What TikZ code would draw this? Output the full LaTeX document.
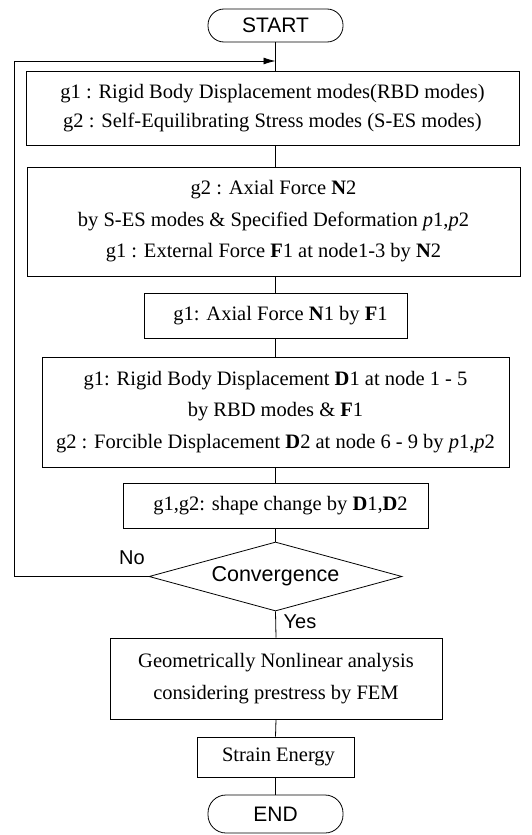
\documentclass[tikz,border=0pt]{standalone}
\usepackage{fontspec}
\setmainfont{Liberation Serif}
\newfontfamily\labelfont{Liberation Sans}
\usetikzlibrary{arrows.meta,shapes.geometric}
\begin{document}
\begin{tikzpicture}[x=1pt,y=-1pt,
  line width=0.8pt,
  boxnode/.style={draw,rectangle,inner sep=0pt,align=center,
    font=\fontsize{20.5}{31.5}\selectfont},
  termnode/.style={draw,rectangle,rounded corners=16pt,inner sep=0pt,
    minimum width=135pt,minimum height=33pt,font=\labelfont\fontsize{21}{24}\selectfont},
  decnode/.style={draw,diamond,aspect=3.7,inner sep=0pt,
    minimum width=253pt,minimum height=69pt,font=\labelfont\fontsize{21.5}{24}\selectfont},
  lbl/.style={font=\labelfont\fontsize{20}{24}\selectfont,inner sep=0pt}
]
\useasboundingbox (0,0) rectangle (531,835);

\node[termnode] (start) at (275.5,25.5) {START};

\node[boxnode,minimum width=493pt,minimum height=74pt,
  font=\fontsize{20.5}{29}\selectfont] (b1) at (272.5,108)
  {g1 : Rigid Body Displacement modes(RBD modes)\\
   g2 : Self-Equilibrating Stress modes (S-ES modes)};

\node[boxnode,minimum width=493pt,minimum height=109pt] (b2) at (273.5,221.5)
  {g2 : Axial Force \textbf{N}2\\
   by S-ES modes \& Specified Deformation \textit{p}1,\textit{p}2\\
   g1 : External Force \textbf{F}1 at node1-3 by \textbf{N}2};

\node[boxnode,minimum width=263pt,minimum height=45pt] (b3) at (275.5,315.5)
  {\hspace*{10pt}g1: Axial Force \textbf{N}1 by \textbf{F}1};

\node[boxnode,minimum width=467pt,minimum height=110pt] (b4) at (275.5,412)
  {g1: Rigid Body Displacement \textbf{D}1 at node 1 - 5\\
   by RBD modes \& \textbf{F}1\\
   g2 : Forcible Displacement \textbf{D}2 at node 6 - 9 by \textit{p}1,\textit{p}2};

\node[boxnode,minimum width=305pt,minimum height=45pt] (b5) at (275.5,505.5)
  {\hspace*{10pt}g1,g2: shape change by \textbf{D}1,\textbf{D}2};

\node[decnode] (dec) at (275.5,576.5) {Convergence};

\node[boxnode,minimum width=332pt,minimum height=81pt] (b6) at (276,678.5)
  {Geometrically Nonlinear analysis\\
   considering prestress by FEM};

\node[boxnode,minimum width=157pt,minimum height=40pt] (b7) at (275.5,757)
  {\hspace*{6pt}Strain Energy};

\node[termnode,minimum height=38pt,rounded corners=18pt] (end) at (275.5,814) {END};

\node[lbl] (no) at (132,558) {No};
\node[lbl] (yes) at (300,622) {Yes};

% connectors
\draw (start.south) -- (start.south |- b1.north);
\draw (start.south |- b1.south) -- (start.south |- b2.north);
\draw (start.south |- b2.south) -- (b3.north);
\draw (b3.south) -- (b4.north);
\draw (b4.south) -- (b5.north);
\draw (b5.south) -- (dec.north);
\draw (dec.south) -- (b6.north);
\draw (b6.south) -- (b7.north);
\draw (b7.south) -- (end.north);

\coordinate (lp) at (14,61);
\coordinate (lpend) at (275.5,61);
\draw[-{Latex[length=12pt,width=7pt]}] (dec.west) -| (lp) -- (lpend);
\end{tikzpicture}
\end{document}
